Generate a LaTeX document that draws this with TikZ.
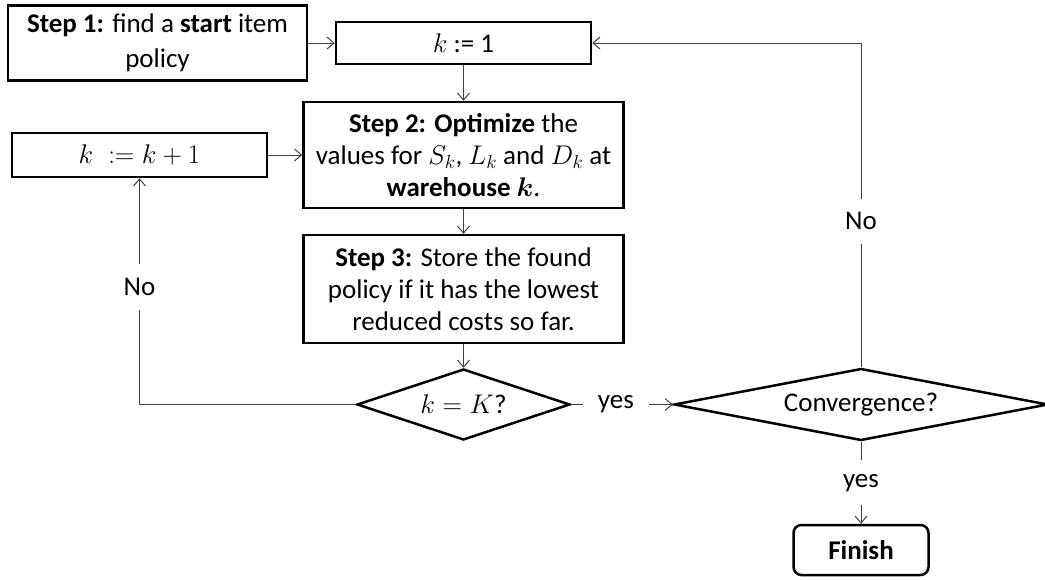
\RequirePackage{fix-cm}
\documentclass[tikz,border=0pt]{standalone}
\usepackage{amsmath}
\usepackage{fontspec}
\setmainfont{Carlito}
\usetikzlibrary{shapes.geometric,arrows.meta}

\begin{document}
\begin{tikzpicture}
  [x=1pt,y=-1pt,
   every node/.style={font={\fontsize{27}{32}\selectfont}},
   box/.style={draw,line width=2.5pt,align=center,inner sep=0pt},
   ask/.style={draw,line width=2.5pt,shape=diamond,inner sep=0pt},
   link/.style={line width=1pt,black!75,-{Straight Barb[length=7pt,width=12pt]}},
   tag/.style={fill=white,text=black,inner xsep=15pt,inner ysep=14pt}]
\useasboundingbox (0,0) rectangle (1045,579);
\node[box,minimum width=299pt,minimum height=75pt] (step1) at (157.5,43)
  {\textbf{Step 1:} find a \textbf{start} item\\[3pt]policy};
\node[box,minimum width=255pt,minimum height=42pt] (kone) at (463.5,43)
  {$k$ := 1};
\node[box,minimum width=255pt,minimum height=44pt] (kinc) at (139.5,155)
  {$k\;\mathrel{:=}k+1$};
\node[box,minimum width=320pt,minimum height=106pt] (step2) at (463.5,155)
  {\textbf{Step 2: Optimize} the\\values for $S_k$, $L_k$ and $D_k$ at\\\textbf{warehouse $\boldsymbol{k}$}.};
\node[box,minimum width=320pt,minimum height=108pt] (step3) at (463.5,289)
  {\textbf{Step 3:} Store the found\\policy if it has the lowest\\reduced costs so far.};
\node[ask,aspect=3,minimum width=213pt,minimum height=71pt] (kK) at (463.5,404.5)
  {$k=K$?};
\node[ask,aspect=5,minimum width=374pt,minimum height=72pt] (conv) at (861,404.5)
  {Convergence?};
\node[box,rounded corners=8pt,minimum width=135pt,minimum height=50pt] (finish) at (861,550)
  {\textbf{Finish}};
\foreach \a/\b in {step1/kone,kinc/step2,kone/step2,step2/step3,step3/kK}
  \draw[link] (\a) -- (\b);
\draw[link] (kK) -- node[tag,pos=0.44] {yes} (conv);
\draw[link] (kK.west) -| node[tag,pos=0.76] {No} (kinc.south);
\draw[link] (conv.north) |- node[tag,pos=0.225] {No} (kone.east);
\draw[link] (conv) -- node[tag] {yes} (finish);
\end{tikzpicture}
\end{document}
